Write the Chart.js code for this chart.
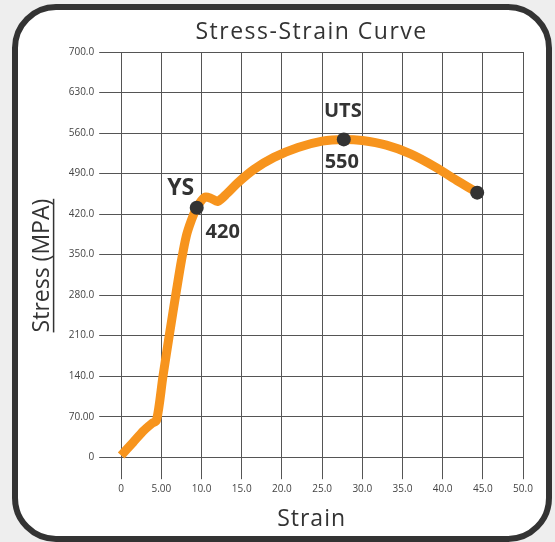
<!DOCTYPE html>
<html>
<head>
<meta charset="utf-8">
<title>Stress-Strain Curve</title>
<script src="https://cdn.jsdelivr.net/npm/chart.js@4/dist/chart.umd.min.js"></script>
<style>
  html, body { margin: 0; padding: 0; background: #eeeeee; }
  #wrap { position: relative; width: 555px; height: 542px; overflow: hidden; }
  #card {
    position: absolute; left: 12px; top: 4px; width: 540px; height: 538px;
    box-sizing: border-box; border: 6px solid #333; border-radius: 44px; background: #fff;
  }
  #chart { position: absolute; left: 0; top: 0; }
</style>
</head>
<body>
<div id="wrap">
  <div id="card"></div>
  <canvas id="chart" width="555" height="542"></canvas>
</div>
<script>
// curve
const strain = [0, 1.5, 2.8, 3.8, 4.4, 5.2, 6.0, 6.9, 7.5, 8.1, 8.7, 9.4, 10.4, 11.2, 12.0, 13.2, 14.5, 16.5, 19.0, 22.0, 25.0, 27.7, 30.0, 33.0, 36.0, 39.0, 42.0, 44.3];
const stress = [3, 26, 46, 58, 64, 140, 212, 290, 340, 382, 408, 431, 449, 447, 442, 456, 474, 497, 518, 535, 546, 549, 547, 539, 524, 502, 476, 457];

// marked points: yield strength, ultimate tensile strength, fracture
const keyStrain = [9.4, 27.7, 44.3];
const keyStress = [431, 549, 457];
const keyNames = ['YS', 'UTS', ''];
const keyValues = ['420', '550', ''];

const xTickLabels = ['0', '5.00', '10.0', '15.0', '20.0', '25.0', '30.0', '35.0', '40.0', '45.0', '50.0'];
const yTickLabels = ['0', '70.00', '140.0', '210.0', '280.0', '350.0', '420.0', '490.0', '560.0', '630.0', '700.0'];

const FONT = 'Open Sans';
const INK = '#333';
const GRID = '#555';

// chart.js has no letter spacing / underline for titles, so wrap their draw calls
const titleTweaks = {
  id: 'titleTweaks',
  beforeDraw(chart) {
    if (chart.$tweaked) return;
    chart.$tweaked = true;
    const ctx = chart.ctx;
    const wrap = (obj, fnName, spacing, dx, dy, after) => {
      const orig = obj[fnName];
      obj[fnName] = function (...args) {
        ctx.save();
        ctx.letterSpacing = spacing;
        ctx.translate(dx, dy);
        orig.apply(this, args);
        if (after) after.call(this);
        ctx.restore();
      };
    };
    wrap(chart.titleBlock, 'draw', '1.5px', -10.5, 0);
    wrap(chart.scales.x, 'drawTitle', '1px', -10.5, 0);
    wrap(chart.scales.y, 'drawTitle', '0px', 0, 11, function () {
      const a = chart.chartArea;
      const t = this.options.title;
      ctx.font = t.font.size + 'px "' + FONT + '"';
      const w = ctx.measureText(t.text).width;
      const lx = this.left + t.padding.top + t.font.size * 0.6 + 10.8;
      const cy = (a.top + a.bottom) / 2;
      ctx.strokeStyle = INK;
      ctx.lineWidth = 1.5;
      ctx.beginPath();
      ctx.moveTo(lx, cy - w / 2);
      ctx.lineTo(lx, cy + w / 2);
      ctx.stroke();
    });
  }
};

// YS / UTS labels next to the dots
const labelOffsets = [
  { name: [-16, -19, 23], value: [26, 25, 20] },
  { name: [-1, -28, 20], value: [-2, 23, 20] },
  null
];

const keyLabels = {
  id: 'keyLabels',
  afterDatasetsDraw(chart) {
    const { ctx, scales: { x, y } } = chart;
    ctx.save();
    ctx.fillStyle = INK;
    ctx.textAlign = 'center';
    ctx.textBaseline = 'middle';
    keyNames.forEach((name, i) => {
      const o = labelOffsets[i];
      if (!o) return;
      const px = x.getPixelForValue(keyStrain[i]);
      const py = y.getPixelForValue(keyStress[i]);
      ctx.font = 'bold ' + o.name[2] + 'px "' + FONT + '"';
      ctx.fillText(name, px + o.name[0], py + o.name[1]);
      ctx.font = 'bold ' + o.value[2] + 'px "' + FONT + '"';
      ctx.fillText(keyValues[i], px + o.value[0], py + o.value[1]);
    });
    ctx.restore();
  }
};

const ctx = document.getElementById('chart').getContext('2d');

new Chart(ctx, {
  type: 'line',
  data: {
    datasets: [
      {
        type: 'scatter',
        data: keyStrain.map((v, i) => ({ x: v, y: keyStress[i] })),
        pointRadius: 7,
        pointBackgroundColor: INK,
        pointBorderWidth: 0,
        clip: false
      },
      {
        data: strain.map((v, i) => ({ x: v, y: stress[i] })),
        borderColor: '#F7941D',
        borderWidth: 9,
        pointRadius: 0,
        tension: 0.3,
        borderJoinStyle: 'round',
        fill: false,
        clip: false
      }
    ]
  },
  options: {
    responsive: false,
    animation: false,
    layout: { padding: { left: 26, right: 32, top: 0, bottom: 4 } },
    plugins: {
      legend: { display: false },
      tooltip: { enabled: false },
      title: {
        display: true,
        text: 'Stress-Strain Curve',
        color: INK,
        fullSize: false,
        font: { family: FONT, size: 23, weight: '400' },
        padding: { top: 19, bottom: 5.4 }
      }
    },
    scales: {
      x: {
        type: 'linear',
        min: 0,
        max: 50,
        grid: { color: GRID, lineWidth: 1, tickLength: 22, tickColor: GRID },
        border: { color: GRID, width: 1 },
        ticks: {
          stepSize: 5,
          padding: 4,
          color: '#444',
          font: { family: FONT, size: 10 },
          callback: (v, i) => xTickLabels[i]
        },
        title: {
          display: true,
          text: 'Strain',
          color: INK,
          font: { family: FONT, size: 23, weight: '400' },
          padding: { top: 6, bottom: 5.2 }
        }
      },
      y: {
        min: 0,
        max: 700,
        grid: { color: GRID, lineWidth: 1, tickLength: 22, tickColor: GRID },
        border: { color: GRID, width: 1 },
        ticks: {
          stepSize: 70,
          padding: 5,
          color: '#444',
          font: { family: FONT, size: 10 },
          callback: (v, i) => yTickLabels[i]
        },
        title: {
          display: true,
          text: 'Stress (MPA)',
          color: INK,
          font: { family: FONT, size: 23, weight: '400' },
          padding: { top: 3, bottom: 7.1 }
        }
      }
    }
  },
  plugins: [titleTweaks, keyLabels]
});
</script>
</body>
</html>
